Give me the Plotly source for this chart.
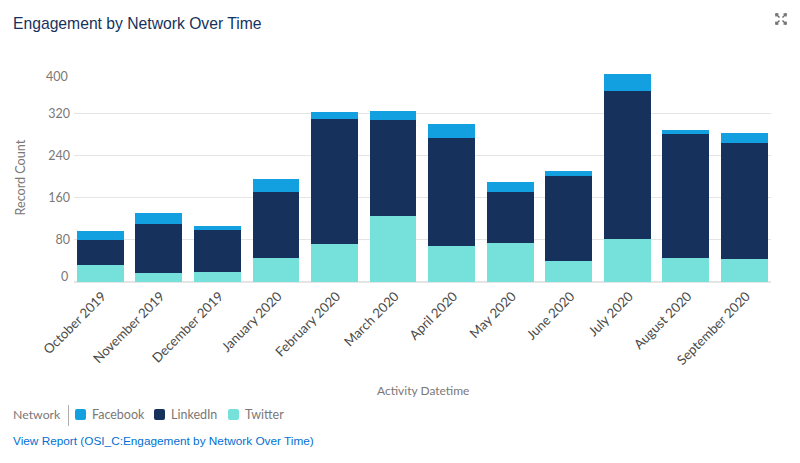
import plotly.graph_objects as go

W, H = 800, 463
L, R, T, B = 74, 771, 71, 282

months = ["October 2019", "November 2019", "December 2019", "January 2020",
          "February 2020", "March 2020", "April 2020", "May 2020",
          "June 2020", "July 2020", "August 2020", "September 2020"]
twitter = [33, 17, 19, 45, 72, 125, 69, 74, 40, 82, 46, 44]
linkedin = [47, 93, 80, 125, 237, 182, 204, 97, 161, 280, 235, 220]
facebook = [16, 20, 8, 26, 13, 17, 27, 19, 10, 32, 7, 19]
y_ticks = [0, 80, 160, 240, 320, 400]

GRAY = "#7b7876"
LABEL_FONT = "Lato, sans-serif"
HELV_FONT = "Liberation Sans, Arial, sans-serif"
COLORS = {"Twitter": "#76e0da", "LinkedIn": "#16325c", "Facebook": "#12a0e0"}


# page pixels to plot-area fractions
def px(x):
    return (x - L) / (R - L)


def py(y):
    return (B - y) / (B - T)


def label(x, y, text, size=12.5, color=GRAY, anchor="left", angle=0, family=LABEL_FONT):
    fig.add_annotation(x=px(x), y=py(y), xref="paper", yref="paper", xanchor=anchor, yanchor="middle",
                       text=text, showarrow=False, textangle=angle, borderpad=0,
                       font=dict(family=family, size=size, color=color))


def swatch_path(x0, y0, x1, y1, r=2):
    a, b, c, d = px(x0), px(x1), py(y0), py(y1)
    rx, ry = r / (R - L), r / (B - T)
    return (f"M {a + rx} {c} L {b - rx} {c} Q {b} {c} {b} {c - ry} L {b} {d + ry} Q {b} {d} {b - rx} {d} "
            f"L {a + rx} {d} Q {a} {d} {a} {d + ry} L {a} {c - ry} Q {a} {c} {a + rx} {c} Z")


fig = go.Figure()
for name, vals in [("Twitter", twitter), ("LinkedIn", linkedin), ("Facebook", facebook)]:
    fig.add_trace(go.Bar(x=months, y=vals, name=name, marker=dict(color=COLORS[name], line_width=0)))

fig.update_layout(
    width=W, height=H, autosize=False,
    barmode="stack", bargap=0.2,
    plot_bgcolor="white", paper_bgcolor="white",
    margin=dict(l=L, r=W - R, t=T, b=H - B, autoexpand=False),
    font=dict(family=LABEL_FONT, size=13, color=GRAY),
    title=dict(text="Engagement by Network Over Time", x=13 / W, xref="container", xanchor="left",
               y=1 - 24 / H, yref="container", yanchor="middle",
               font=dict(family=HELV_FONT, size=15.7, color="#16325c")),
    showlegend=False,
)
fig.update_xaxes(range=[-0.449, 11.455], tickangle=-45, showgrid=False, showline=False, ticks="",
                 tickfont=dict(size=13.2, color="#4a4a48"), automargin=False,
                 ticklabelstandoff=3, ticklabelshift=2)
fig.update_yaxes(range=[0, 400], tickvals=y_ticks,
                 ticktext=["" if v in (0, 400) else str(v) for v in y_ticks],
                 gridcolor="#e5e5e5", gridwidth=1, zeroline=True, zerolinecolor="#e5e5e5",
                 showline=False, ticks="", tickfont=dict(size=12.5, color=GRAY), automargin=False,
                 ticklabelstandoff=3)

# end labels sit inside the plot range, shifted off their gridlines
for val, shift in [(400, -5), (0, 6)]:
    fig.add_annotation(x=px(69.5), xref="paper", xanchor="right", y=val, yref="y", yshift=shift,
                       text=str(val), showarrow=False, font=dict(size=12.5, color=GRAY))

label(20, 177.5, "Record Count", size=12.6, anchor="center", angle=-90)
label(422.5, 390, "Activity Datetime", size=12, anchor="center")
label(12, 441, "View Report (OSI_C:Engagement by Network Over Time)", size=11.8, color="#0070d2",
      family=HELV_FONT)

# legend row
label(12.5, 414, "Network", size=12.3)
fig.add_shape(type="line", xref="paper", yref="paper", x0=px(68.5), x1=px(68.5), y0=py(405), y1=py(426),
              line=dict(color="#b0adab", width=1))
for name, x0 in [("Facebook", 75), ("LinkedIn", 154), ("Twitter", 228)]:
    x1 = x0 + 11
    fig.add_shape(type="path", xref="paper", yref="paper", path=swatch_path(x0, 409, x1, 420),
                  fillcolor=COLORS[name], line=dict(width=0))
    label(x1 + 4.5, 414.5, name)

# expand icon, top right
cx, cy = 781, 19
for dx, dy in [(-1, -1), (1, -1), (-1, 1), (1, 1)]:
    fig.add_shape(type="line", xref="paper", yref="paper", x0=px(cx + dx * 1.5), x1=px(cx + dx * 5),
                  y0=py(cy + dy * 1.5), y1=py(cy + dy * 5), line=dict(color="#706e6b", width=1.5))
    fig.add_shape(type="line", xref="paper", yref="paper", x0=px(cx + dx * 2.5), x1=px(cx + dx * 5.5),
                  y0=py(cy + dy * 5), y1=py(cy + dy * 5), line=dict(color="#706e6b", width=1.5))
    fig.add_shape(type="line", xref="paper", yref="paper", x0=px(cx + dx * 5), x1=px(cx + dx * 5),
                  y0=py(cy + dy * 2.5), y1=py(cy + dy * 5.5), line=dict(color="#706e6b", width=1.5))

# page margin would shift the figure by 8px
fig.write_html("out.html", config=dict(displayModeBar=False),
               post_script="document.body.style.margin = '0';")
